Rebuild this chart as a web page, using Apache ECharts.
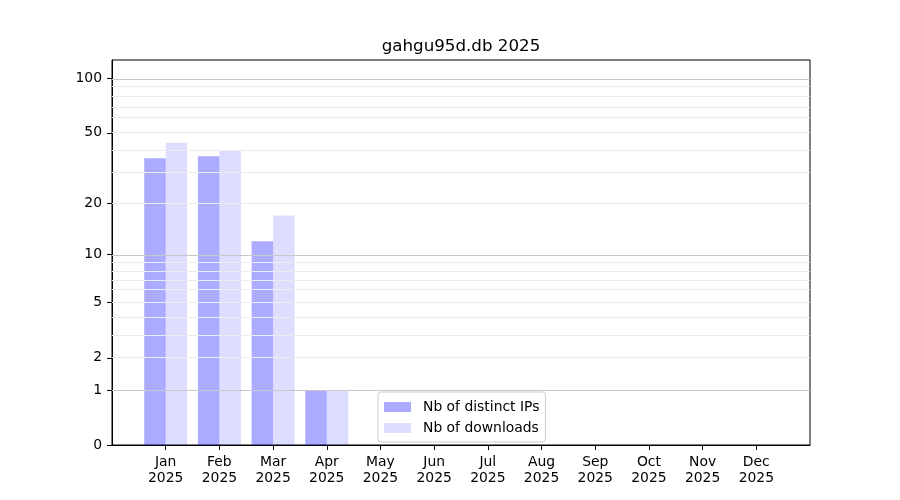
<!DOCTYPE html>
<html>
<head>
<meta charset="utf-8">
<script src="https://cdn.jsdelivr.net/npm/echarts@6/dist/echarts.min.js"></script>
<style>html,body{margin:0;padding:0;background:#fff}#c{width:900px;height:500px}</style>
</head>
<body>
<div id="c"></div>
<script>
const titleText = 'gahgu95d.db 2025';
const months = ['Jan','Feb','Mar','Apr','May','Jun','Jul','Aug','Sep','Oct','Nov','Dec'];
const yearLabel = '2025';
const distinctIPs = [36, 37, 12, 1];
const downloads = [44, 40, 17, 1];
const yTickLabels = [0, 1, 2, 5, 10, 20, 50, 100];
const majorGrid = [1, 10, 100];
const minorGrid = [2, 3, 4, 5, 6, 7, 8, 9, 20, 30, 40, 50, 60, 70, 80, 90];
const yTop = 126.6;

const f = v => Math.log10(1 + v);
const inv = t => Math.round(Math.pow(10, t) - 1);
const FONT = 'DejaVu Sans';
const FS = 13.9;

const chart = echarts.init(document.getElementById('c'), null, {renderer: 'canvas'});
const gridLines = majorGrid.map(v => ({yAxis: f(v), lineStyle: {color: '#c8c8c8', width: 1, type: 'solid'}}))
  .concat(minorGrid.map(v => ({yAxis: f(v), lineStyle: {color: '#ececec', width: 1, type: 'solid'}})));

chart.setOption({
  animation: false,
  backgroundColor: '#fff',
  textStyle: {fontFamily: FONT},
  title: {
    text: titleText, left: 461, top: 38, textAlign: 'center', padding: 0,
    textStyle: {fontFamily: FONT, fontSize: 16.7, fontWeight: 'normal', color: '#000'}
  },
  grid: {left: 112, right: 90, top: 60, bottom: 55, show: true, borderColor: '#000', borderWidth: 1, backgroundColor: 'transparent'},
  legend: {
    orient: 'vertical', left: 378, top: 392,
    padding: [7, 6, 6, 6], itemWidth: 27, itemHeight: 10, itemGap: 5,
    backgroundColor: 'rgba(255,255,255,0.8)', borderColor: '#cccccc', borderWidth: 1, borderRadius: 3,
    icon: 'rect',
    textStyle: {fontFamily: FONT, fontSize: FS, color: '#000', lineHeight: 16, padding: [0, 0, 0, 7]},
    data: ['Nb of distinct IPs', 'Nb of downloads']
  },
  xAxis: {
    type: 'value', min: -1, max: 12,
    axisLine: {show: true, onZero: false, lineStyle: {color: '#000', width: 1}},
    axisTick: {show: true, inside: false, length: 5, customValues: months.map((m, i) => i), lineStyle: {color: '#000'}},
    axisLabel: {customValues: months.map((m, i) => i), formatter: v => months[v] + '\n' + yearLabel,
      fontFamily: FONT, fontSize: FS, color: '#000', lineHeight: 16, margin: 9},
    splitLine: {show: false}
  },
  yAxis: {
    type: 'value', min: 0, max: f(yTop),
    axisLine: {show: true, onZero: false, lineStyle: {color: '#000', width: 1}},
    axisTick: {show: true, inside: false, length: 5, customValues: yTickLabels.map(f), lineStyle: {color: '#000'}},
    axisLabel: {customValues: yTickLabels.map(f), formatter: v => String(inv(v)),
      fontFamily: FONT, fontSize: FS, color: '#000', margin: 10},
    splitLine: {show: false}
  },
  series: [
    {
      name: 'Nb of distinct IPs', type: 'bar', barWidth: 21.5, barGap: '0%',
      itemStyle: {color: 'rgba(0,0,255,0.33)'},
      data: distinctIPs.map((v, i) => [i, f(v)]),
      markLine: {silent: true, symbol: 'none', label: {show: false}, z: 3, animation: false, data: gridLines}
    },
    {
      name: 'Nb of downloads', type: 'bar', barWidth: 21.5, barGap: '0%',
      itemStyle: {color: 'rgba(0,0,255,0.135)'},
      data: downloads.map((v, i) => [i, f(v)])
    }
  ]
});
</script>
</body>
</html>
